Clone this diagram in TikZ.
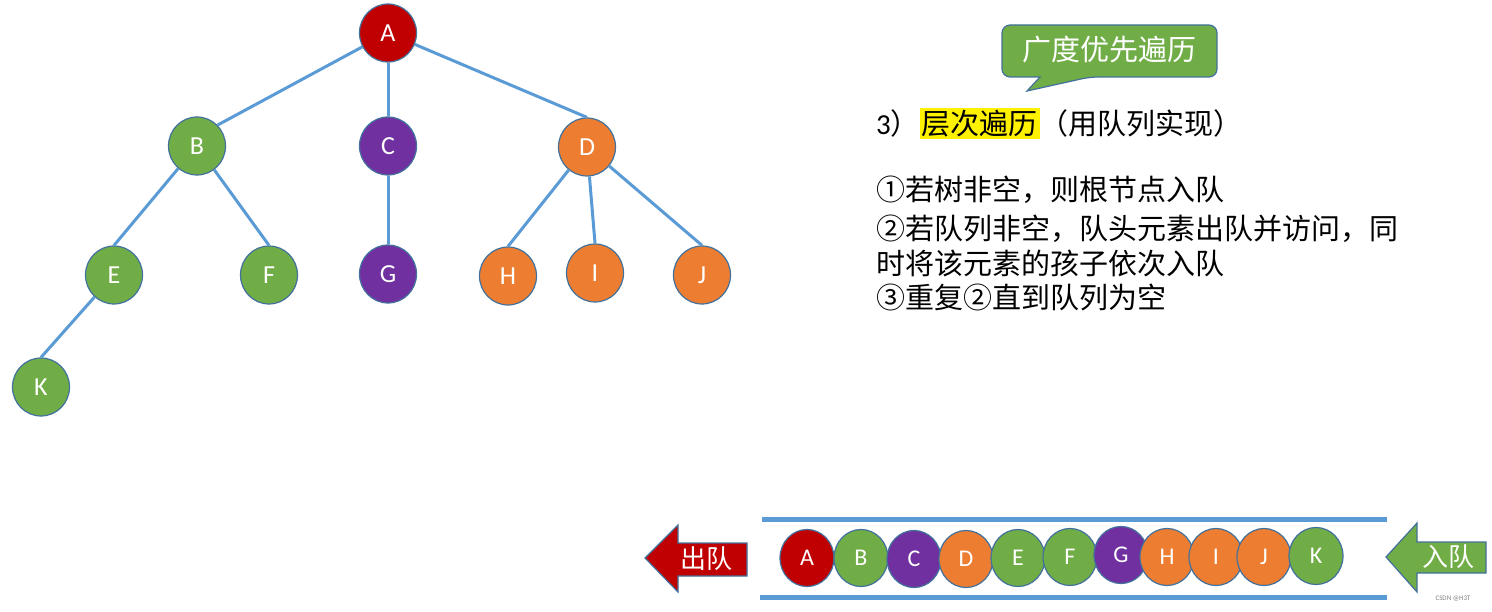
\documentclass[tikz,border=0pt]{standalone}
\usepackage{fontspec}
\newfontfamily\cjk{Noto Sans CJK SC}
\newfontfamily\lat{Carlito}
\usetikzlibrary{shapes.geometric}
\definecolor{cred}{HTML}{C00000}
\definecolor{cgreen}{HTML}{70AD47}
\definecolor{cpurple}{HTML}{7030A0}
\definecolor{corange}{HTML}{ED7D31}
\definecolor{edgeblue}{HTML}{5B9BD5}
\definecolor{nodeline}{HTML}{41719C}
\begin{document}
\begin{tikzpicture}[x=1pt,y=-1pt,
  tn/.style={ellipse, draw=nodeline, line width=1.2pt, minimum width=57pt, minimum height=58pt, inner sep=0pt, text=white, font=\lat\fontsize{26}{26}\selectfont},
  qn/.style={tn, minimum width=54pt, minimum height=57pt, font=\lat\fontsize{24}{24}\selectfont},
  tedge/.style={draw=edgeblue, line width=3pt},
  qline/.style={draw=edgeblue, line width=5pt},
  bigarrow/.style={draw=nodeline, line width=1.2pt},
  cntext/.style={anchor=west, inner sep=0pt, font=\cjk\fontsize{29}{29}\selectfont},
  arrtext/.style={text=white, inner sep=0pt, font=\cjk\fontsize{26}{26}\selectfont}]
\useasboundingbox (0,0) rectangle (1492,612);
% tree nodes
\node[tn, fill=cred] (A) at (388,33) {A};
\node[tn, fill=cgreen] (B) at (197,146) {B};
\node[tn, fill=cpurple] (C) at (388,146) {C};
\node[tn, fill=corange] (D) at (587,147) {D};
\node[tn, fill=cgreen] (E) at (114,275) {E};
\node[tn, fill=cgreen] (F) at (269,275) {F};
\node[tn, fill=cpurple] (G) at (388,274) {G};
\node[tn, fill=corange] (H) at (508,276) {H};
\node[tn, fill=corange] (I) at (595,273) {I};
\node[tn, fill=corange] (J) at (702,275) {J};
\node[tn, fill=cgreen] (K) at (41,387) {K};
% tree edges
\draw[tedge] (A) -- (B.north east);
\draw[tedge] (A) -- (C);
\draw[tedge] (A) -- (D.north);
\draw[tedge] (B) -- (E.north);
\draw[tedge] (B) -- (F.north);
\draw[tedge] (C) -- (G);
\draw[tedge] (D) -- (H.north);
\draw[tedge] (D) -- (I.north);
\draw[tedge] (D) -- (J.north);
\draw[tedge] (E) -- (K.north);
% callout
\path[draw=nodeline, line width=1.2pt, fill=cgreen]
  (1002,51) [rounded corners=8pt] -- (1002,25) -- (1217,25) -- (1217,77) -- (1090,77)
  [sharp corners] -- (1027,91) -- (1040,77) [rounded corners=8pt] -- (1002,77) -- cycle;
\node[text=white, inner sep=0pt, font=\cjk\fontsize{29}{29}\selectfont] (title) at (1109,50) {广度优先遍历};
% description text
\fboxsep=2pt
\node[cntext] (l0) at (876,124) {{\lat 3}）\colorbox{yellow}{层次遍历}（用队列实现）};
\node[cntext] (l1) at (876,190) {①若树非空，则根节点入队};
\node[cntext] (l2) at (876,229) {②若队列非空，队头元素出队并访问，同};
\node[cntext] (l3) at (876,263) {时将该元素的孩子依次入队};
\node[cntext] (l4) at (876,297) {③重复②直到队列为空};
% queue
\draw[qline] (762,519) -- (1387,519);
\draw[qline] (760,597) -- (1387,597);
\node[qn, fill=cred] (qA) at (807,558) {A};
\node[qn, fill=cgreen] (qB) at (861,558) {B};
\node[qn, fill=cpurple] (qC) at (914,559) {C};
\node[qn, fill=corange] (qD) at (966,559) {D};
\node[qn, fill=cgreen] (qE) at (1018,558) {E};
\node[qn, fill=cgreen] (qF) at (1070,557) {F};
\node[qn, fill=cpurple] (qG) at (1121,555) {G};
\node[qn, fill=corange] (qH) at (1167,557) {H};
\node[qn, fill=corange] (qI) at (1216,557) {I};
\node[qn, fill=corange] (qJ) at (1264,557) {J};
\node[qn, fill=cgreen] (qK) at (1316,556) {K};
% arrows
\path[bigarrow, fill=cred] (747,543) -- (678,543) -- (678,525) -- (645,558) -- (678,592) -- (678,576) -- (747,576) -- cycle;
\node[arrtext] (out) at (706,559) {出队};
\path[bigarrow, fill=cgreen] (1486,542) -- (1417,542) -- (1417,523) -- (1386,557) -- (1417,592) -- (1417,573) -- (1486,573) -- cycle;
\node[arrtext] (in) at (1448,557) {入队};
\node[text=gray, inner sep=0pt, font=\lat\fontsize{7}{7}\selectfont] (wm) at (1453,599) {CSDN @H3T};
\end{tikzpicture}
\end{document}
